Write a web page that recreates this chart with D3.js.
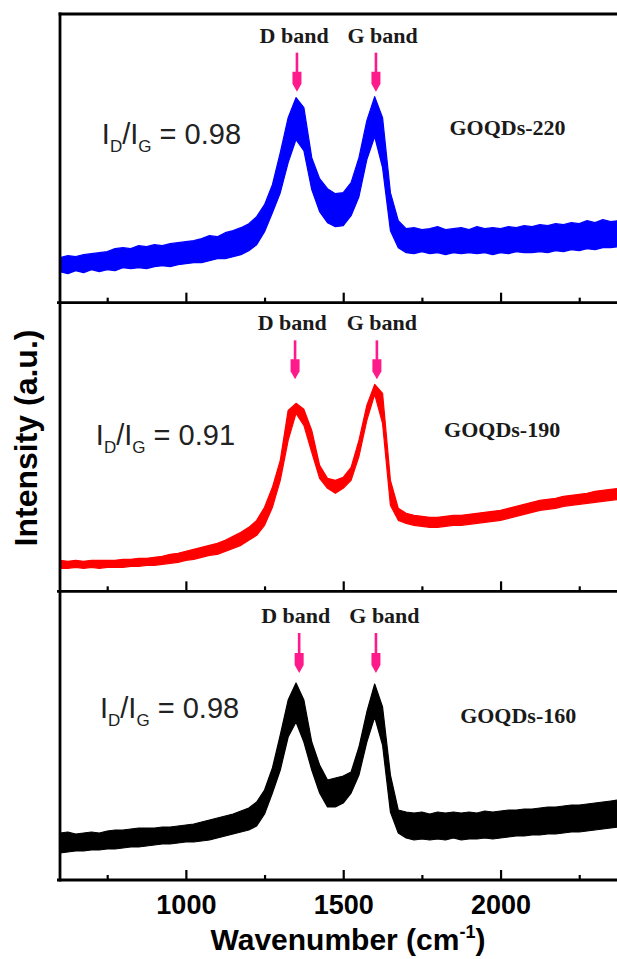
<!DOCTYPE html>
<html><head><meta charset="utf-8">
<script src="https://cdn.jsdelivr.net/npm/d3@7"></script>
<style>body{margin:0;background:#fff}svg{display:block}</style>
</head><body>
<svg id="c" width="617" height="959"></svg>
<script>
// ---- data ----
const wavenumbers = [600,625,650,675,700,725,750,775,800,825,850,875,900,925,950,975,1000,1025,1050,1075,1100,1125,1150,1175,1200,1225,1250,1275,1300,1325,1350,1375,1400,1425,1450,1475,1500,1525,1550,1575,1600,1625,1650,1675,1700,1725,1750,1775,1800,1825,1850,1875,1900,1925,1950,1975,2000,2025,2050,2075,2100,2125,2150,2175,2200,2225,2250,2275,2300,2325,2350,2375];

const samples = ["GOQDs-220", "GOQDs-190", "GOQDs-160"];
const ratios = ["0.98", "0.91", "0.98"];
const seriesColors = ["#0000ff", "#ff0000", "#000000"];

// noisy Raman band: upper / lower envelope of the recorded trace (a.u.)
const hi220 = [45,47,46,48,49,50,51,54,55,54,57,56,58,57,59,60,61,62,64,67,66,70,72,75,79,86,98,118,150,185,205,195,145,124,114,109,110,120,145,182,206,185,110,82,74,75,73,74,76,73,74,75,73,76,74,75,74,76,75,77,76,78,77,79,78,80,79,82,80,83,81,82];
const lo220 = [31,29,32,30,33,31,33,32,35,34,35,34,36,37,36,38,39,40,40,42,44,44,46,48,52,58,71,90,110,140,163,152,113,91,80,76,77,87,106,143,166,135,72,55,50,49,51,49,50,48,50,49,50,49,50,48,50,49,51,50,50,51,50,52,51,53,52,54,53,55,55,56];

const hi190 = [31,30,31,30,31,31,31,31,32,32,33,33,34,35,37,38,40,42,44,46,48,51,55,59,64,71,84,104,131,181,188,182,161,126,113,111,114,124,151,186,207,198,111,83,78,76,75,74,74,75,76,76,77,78,79,80,81,83,85,87,89,91,92,93,95,96,97,98,100,101,102,103];
const lo190 = [23,23,24,23,24,23,24,24,24,25,25,26,26,27,28,29,31,32,34,36,37,40,43,46,51,56,66,84,111,151,178,166,139,113,103,98,103,111,135,171,197,168,86,71,68,66,65,64,64,65,66,66,67,68,69,70,71,73,75,77,79,81,82,83,85,86,87,88,89,90,91,92];

const hi160 = [47,48,46,47,48,47,49,50,50,51,52,52,52,53,53,54,55,56,58,60,62,64,66,69,72,78,90,112,145,180,197,180,138,115,100,102,104,108,133,168,196,173,105,70,68,67,68,66,68,67,68,67,68,67,69,68,69,70,70,71,71,72,73,73,74,75,75,76,77,78,79,80];
const lo160 = [27,28,29,29,30,30,31,31,32,33,33,34,35,36,36,37,38,38,39,40,42,44,46,48,50,54,66,87,110,143,158,138,110,87,73,73,77,87,105,138,163,135,68,47,42,40,41,40,41,40,42,40,41,41,42,41,42,43,44,44,45,45,46,46,47,48,48,49,50,51,52,53];

const highs = [hi220, hi190, hi160];
const lows = [lo220, lo190, lo160];

const bandLabels = ["D band", "G band"];
const dPeak = [1353, 1347, 1360];   // cm-1, arrow positions
const gPeak = [1604, 1607, 1604];

const majorTicks = [1000, 1500, 2000];
const minorTicks = [750, 1250, 1750, 2250];
const xTitle = "Wavenumber (cm";
const yTitle = "Intensity (a.u.)";

// ---- layout ----
const W = 617, H = 959;
const left = 60, right = 617, top0 = 14, panelH = 288.67;
const sans = "'Liberation Sans', Arial, sans-serif";
const serif = "'Liberation Serif', 'Times New Roman', serif";
const pink = "#ff1a8c";

// annotation placement (data units per panel)
const ratioPos = [[733,159],[714,146],[727,162]];
const samplePos = [[2022,168],[2005,154],[2056,157]];
const bandLabelY = [260, 261, 257];
const dLabelX = [1344, 1338, 1349];
const gLabelX = [1625, 1623, 1631];
const arrowTop = [250, 251, 247];
const arrowTip = [211, 212, 207];

const svg = d3.select("#c");
const x = d3.scaleLinear().domain([600, 2370]).range([left, right]);

svg.append("defs").append("clipPath").attr("id","clip")
  .append("rect").attr("x", left).attr("y", top0).attr("width", right-left+5).attr("height", panelH*3);

samples.forEach((name, i) => {
  const pTop = top0 + i*panelH, pBot = pTop + panelH;
  const y = d3.scaleLinear().domain([0, 288.67]).range([pBot, pTop]);
  const g = svg.append("g");
  const data = wavenumbers.map((w, j) => ({w, hi: highs[i][j], lo: lows[i][j]}));

  const area = d3.area().x(d => x(d.w)).y0(d => y(d.lo)).y1(d => y(d.hi));
  g.append("path").datum(data).attr("clip-path","url(#clip)")
    .attr("d", area).attr("fill", seriesColors[i])
    .attr("stroke", seriesColors[i]).attr("stroke-width", 1.2).attr("stroke-linejoin","round");

  // bottom axis with inward ticks
  const axMaj = d3.axisBottom(x).tickValues(majorTicks).tickSize(-10).tickSizeOuter(0)
    .tickPadding(15).tickFormat(i === 2 ? d3.format("d") : () => "");
  const axMin = d3.axisBottom(x).tickValues(minorTicks).tickSize(-5).tickSizeOuter(0).tickFormat(() => "");
  const a1 = g.append("g").attr("transform", `translate(0,${pBot})`).call(axMaj);
  const a2 = g.append("g").attr("transform", `translate(0,${pBot})`).call(axMin);
  [a1, a2].forEach(a => {
    a.select(".domain").remove();
    a.selectAll(".tick line").attr("stroke", "#000").attr("stroke-width", 2.2);
    a.selectAll(".tick text").attr("fill", "#000").style("font-family", sans)
      .style("font-size", "27px").style("font-weight", "bold");
  });
  g.append("line").attr("x1", left-3).attr("x2", W+5).attr("y1", pBot).attr("y2", pBot)
    .attr("stroke", "#000").attr("stroke-width", 2.8);

  // band labels + arrows
  [[bandLabels[0], dLabelX[i], dPeak[i]], [bandLabels[1], gLabelX[i], gPeak[i]]].forEach(([lab, lx, px]) => {
    g.append("text").attr("x", x(lx)).attr("y", y(bandLabelY[i])).attr("text-anchor","middle")
      .style("font-family", serif).style("font-weight","bold").style("font-size","22px")
      .attr("fill","#1a1a1a").text(lab);
    const ax = x(px), yt = y(arrowTop[i]), yp = y(arrowTip[i]);
    g.append("line").attr("x1", ax).attr("x2", ax).attr("y1", yt).attr("y2", yp-12)
      .attr("stroke", pink).attr("stroke-width", 2.6);
    g.append("path").attr("d", `M${ax-4.5},${yp-20}L${ax+4.5},${yp-20}L${ax+4.5},${yp-8}L${ax},${yp}L${ax-4.5},${yp-8}Z`)
      .attr("fill", pink);
  });

  // ID/IG ratio
  const t = g.append("text").attr("x", x(ratioPos[i][0])).attr("y", y(ratioPos[i][1]))
    .style("font-family", sans).style("font-size","29px").attr("fill","#222");
  t.append("tspan").text("I");
  t.append("tspan").attr("dy", 8).style("font-size","17px").text("D");
  t.append("tspan").attr("dy", -8).text("/I");
  t.append("tspan").attr("dy", 8).style("font-size","17px").text("G");
  t.append("tspan").attr("dy", -8).text(" = " + ratios[i]);

  // sample name
  g.append("text").attr("x", x(samplePos[i][0])).attr("y", y(samplePos[i][1])).attr("text-anchor","middle")
    .style("font-family", serif).style("font-weight","bold").style("font-size","22px")
    .attr("fill","#1a1a1a").text(name);
});

// frame: left axis + top border
svg.append("line").attr("x1", left).attr("x2", left).attr("y1", top0-1.4).attr("y2", top0+panelH*3+1.4)
  .attr("stroke","#000").attr("stroke-width", 2.8);
svg.append("line").attr("x1", left-1.4).attr("x2", W+5).attr("y1", top0).attr("y2", top0)
  .attr("stroke","#000").attr("stroke-width", 2.8);

// axis titles
const xt = svg.append("text").attr("x", 348).attr("y", 950).attr("text-anchor","middle")
  .style("font-family", sans).style("font-weight","bold").style("font-size","30px").attr("fill","#000");
xt.append("tspan").text(xTitle);
xt.append("tspan").attr("dy", -12).style("font-size","18px").text("-1");
xt.append("tspan").attr("dy", 12).text(")");

svg.append("text").attr("transform","translate(37,438) rotate(-90)").attr("text-anchor","middle")
  .style("font-family", sans).style("font-weight","bold").style("font-size","32px").attr("fill","#000")
  .text(yTitle);
</script>
</body></html>
